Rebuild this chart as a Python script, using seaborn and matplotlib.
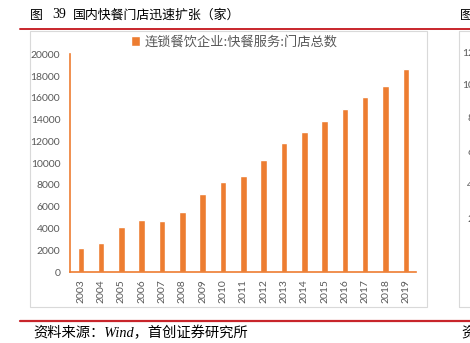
import matplotlib
matplotlib.use("Agg")
import matplotlib.pyplot as plt
import seaborn as sns
import pandas as pd
from matplotlib.lines import Line2D
from matplotlib.patches import Rectangle

years = ["2003", "2004", "2005", "2006", "2007", "2008", "2009", "2010", "2011",
         "2012", "2013", "2014", "2015", "2016", "2017", "2018", "2019"]
stores = [2230, 2660, 4160, 4800, 4650, 5480, 7120, 8290, 8830,
          10330, 11820, 12830, 13840, 14940, 16100, 17110, 18660]
series_name = "连锁餐饮企业:快餐服务:门店总数"
yticks = [0, 2000, 4000, 6000, 8000, 10000, 12000, 14000, 16000, 18000, 20000]
right_ticks = ["12", "10", "8", "6", "4", "2"]

title_fig = "图"
title_num = "39"
title_text = "国内快餐门店迅速扩张（家）"
source = "资料来源：Wind，首创证券研究所"

sns.set_style("white")
plt.rcParams['font.family'] = ['Lato', 'Noto Sans CJK SC', 'DejaVu Sans']

W, H = 470, 343
fig = plt.figure(figsize=(W / 100, H / 100), dpi=100)

def fx(px):
    return px / W

def fy(py):
    return 1 - py / H

ORANGE = "#ED7D31"
RED = "#C8252B"
GRAY = "#595959"

# main axes
ax = fig.add_axes([fx(70), fy(272), fx(416) - fx(70), (272 - 54.3) / H])
df = pd.DataFrame({"year": years, "value": stores, "series": series_name})
sns.barplot(data=df, x="year", y="value", hue="series", palette=[ORANGE],
            width=0.32, saturation=1, ax=ax, legend=True)
ax.set_ylim(0, 20000)
ax.set_xlim(-0.53, 16.5)
ax.set_yticks(yticks)
ax.set_yticklabels([str(v) for v in yticks])
ax.set_xlabel("")
ax.set_ylabel("")
ax.tick_params(axis="y", length=0, pad=7, labelsize=7.5, labelcolor=GRAY)
ax.tick_params(axis="x", length=0, pad=5, labelsize=7.5, labelcolor=GRAY, rotation=90)
for s in ["top", "right"]:
    ax.spines[s].set_visible(False)
for s in ["left", "bottom"]:
    ax.spines[s].set_color(ORANGE)
    ax.spines[s].set_linewidth(1.2)
ax.patch.set_alpha(0)

leg = ax.legend(loc="center", bbox_to_anchor=(0.475, 1.055), frameon=False,
                handlelength=0.75, handleheight=0.75, handletextpad=0.35,
                borderpad=0, prop={"family": ["Noto Sans CJK SC"], "size": 9.5})
for t in leg.get_texts():
    t.set_color(GRAY)

# chart borders
fig.add_artist(Rectangle((fx(30), fy(307)), fx(427) - fx(30), (307 - 31) / H,
                         transform=fig.transFigure, fill=False,
                         edgecolor="#D9D9D9", linewidth=0.8, zorder=0))
fig.add_artist(Line2D([fx(459), fx(459)], [fy(31), fy(307)],
                      transform=fig.transFigure, color="#D9D9D9", linewidth=0.8))
fig.add_artist(Line2D([fx(459), fx(470)], [fy(31), fy(31)],
                      transform=fig.transFigure, color="#D9D9D9", linewidth=0.8))
fig.add_artist(Line2D([fx(459), fx(470)], [fy(307), fy(307)],
                      transform=fig.transFigure, color="#D9D9D9", linewidth=0.8))

# red rules
fig.add_artist(Line2D([fx(20), fx(470)], [fy(29), fy(29)],
                      transform=fig.transFigure, color=RED, linewidth=1.4))
fig.add_artist(Line2D([fx(20), fx(470)], [fy(321), fy(321)],
                      transform=fig.transFigure, color=RED, linewidth=1.6))

# titles / source
cjk = ["Noto Sans CJK SC"]
fig.text(fx(30), fy(15), title_fig, ha="left", va="center", fontsize=9.3,
         family=cjk, color="#000000")
fig.text(fx(52), fy(15), title_num, ha="left", va="center", fontsize=10,
         family=["Liberation Serif"], color="#000000")
fig.text(fx(73), fy(15), title_text, ha="left", va="center", fontsize=9.3,
         family=cjk, color="#000000")
fig.text(fx(460), fy(15), "图", ha="left", va="center", fontsize=9.3,
         family=cjk, color="#000000")
fig.text(fx(33), fy(333), source, ha="left", va="center", fontsize=10.3,
         family=["Liberation Serif", "Noto Sans CJK SC"], style="italic", color="#000000")
fig.text(fx(461), fy(333), "资", ha="left", va="center", fontsize=10.3,
         family=cjk, style="italic", color="#000000")

# partial neighbouring chart tick labels
for lab, py in zip(right_ticks, [53, 86, 119, 152, 186, 219]):
    fig.text(fx(462 if len(lab) == 2 else 467), fy(py), lab + "0000", ha="left", va="center",
             fontsize=7.5, color=GRAY)

fig.savefig("out.png", dpi=100)
